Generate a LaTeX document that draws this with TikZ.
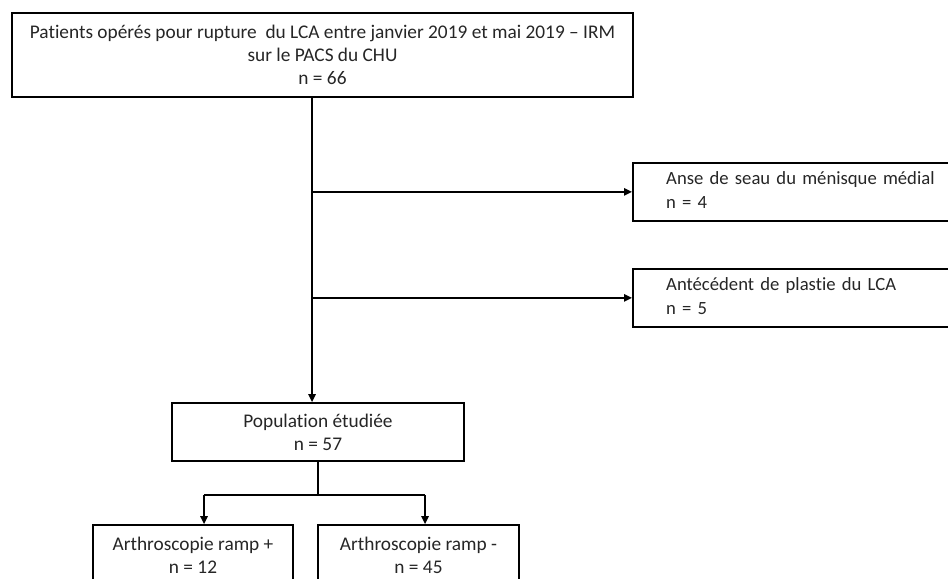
\documentclass[tikz,border=0pt]{standalone}
\usepackage{fontspec}
\setmainfont{Carlito}[Ligatures=NoCommon]
\usetikzlibrary{arrows.meta}
\newcommand{\lefttext}[1]{\begin{tabular}{@{}l@{}}#1\end{tabular}}
\begin{document}
\begin{tikzpicture}[x=0.75pt,y=-0.75pt,
  box/.style={draw=black, line width=1.3pt, inner sep=0pt, align=center,
    font=\fontsize{14.5}{17.25}\selectfont, text=black!85},
  sidebox/.style={box, anchor=north west, align=left, inner xsep=22.5pt,
    text width=250pt, minimum width=300pt, minimum height=43.5pt,
    font=\fontsize{14}{17.25}\selectfont},
  conn/.style={line width=1.3pt, -{Triangle[length=6pt,width=5.5pt]}},
  plain/.style={line width=1.3pt}]
\useasboundingbox (0,0) rectangle (948,578);
\clip (0,0) rectangle (948,578);
\fill[white] (0,0) rectangle (948,578);

\node[box, minimum width=465.75pt, minimum height=63pt] (top) at (322.5,55)
  {Patients opérés pour rupture\ \ du LCA entre janvier 2019 et mai 2019 – IRM\\ sur le PACS du CHU\\ n = 66};
\node[sidebox] (r1) at (632,162) {\lefttext{Anse de seau du ménisque médial\\[1pt] n = 4}};
\node[sidebox] (r2) at (632,268) {\lefttext{Antécédent de plastie du LCA\\[1pt] n = 5}};
\node[box, minimum width=219pt, minimum height=43.5pt] (pop) at (318,432)
  {Population étudiée\\ n = 57};
\node[box, minimum width=150pt, minimum height=45pt] (b1) at (193,555)
  {Arthroscopie ramp +\\ n = 12};
\node[box, minimum width=150.75pt, minimum height=45pt] (b2) at (418.5,555)
  {Arthroscopie ramp -\\ n = 45};

\coordinate (v) at (312,0);
\draw[conn] (top.south -| v) -- (pop.north -| v);
\draw[conn] (v |- r1.west) -- (r1.west);
\draw[conn] (v |- r2.west) -- (r2.west);

\coordinate (bl) at (204,495);
\coordinate (br) at (425,495);
\draw[plain] (pop.south) -- (pop.south |- bl);
\draw[plain] (bl) -- (br);
\draw[conn] (bl) -- (bl |- b1.north);
\draw[conn] (br) -- (br |- b2.north);
\end{tikzpicture}
\end{document}
